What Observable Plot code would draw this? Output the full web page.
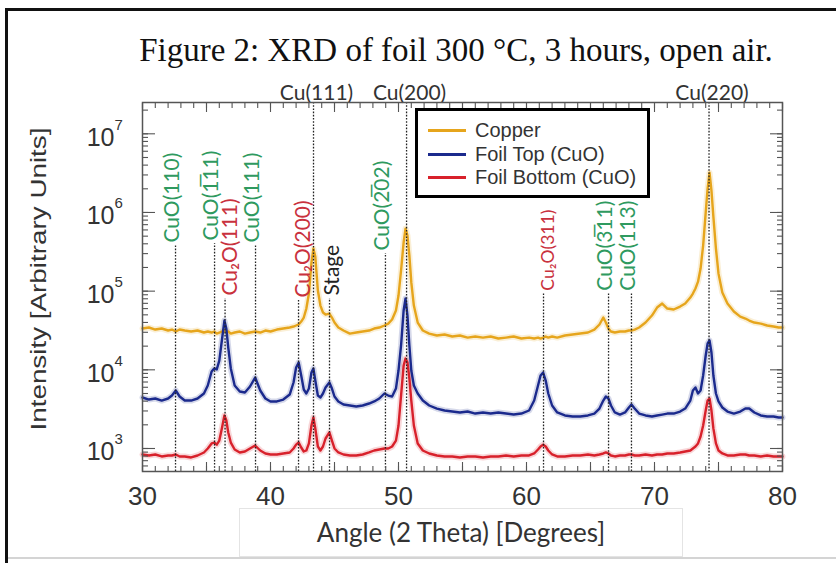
<!DOCTYPE html>
<html>
<head>
<meta charset="utf-8">
<script src="https://cdn.jsdelivr.net/npm/d3@7"></script>
<script src="https://cdn.jsdelivr.net/npm/@observablehq/plot@0.6"></script>
<style>
  html, body { margin: 0; padding: 0; background: #fff; }
  #wrap { position: relative; width: 836px; height: 563px; overflow: hidden; background: #fff; }
  #chart { position: absolute; left: 0; top: 0; }
  #borderTop { position: absolute; left: 5px; top: 8px; width: 831px; height: 3px; background: #111; }
  #borderLeft { position: absolute; left: 5px; top: 8px; width: 3px; height: 555px; background: #111; }
  #borderBottom { position: absolute; left: 8px; top: 557px; width: 828px; height: 2px; background: #d4d4d4; }
  #title { position: absolute; left: 56px; width: 800px; top: 34px; line-height: 33px; text-align: center;
           font-family: "Liberation Serif", "Times New Roman", serif; font-size: 33px; color: #111; white-space: nowrap; }
  #xtitle { position: absolute; left: 239px; top: 508px; width: 442px; height: 47px; border: 1px solid #e4e4e4;
            font-family: Lato, "Open Sans", sans-serif; font-size: 26px; color: #333; text-align: center; line-height: 47px; white-space: nowrap; }
  #legend { position: absolute; left: 415px; top: 108px; width: 229px; height: 84px; border: 3px solid #000; background: #fff;
            font-family: "Liberation Sans", Arial, sans-serif; font-size: 20px; color: #333; }
  .lrow { position: absolute; left: 0; height: 22px; line-height: 22px; white-space: nowrap; }
  .lsw { position: absolute; left: 10px; top: 10px; width: 38px; height: 3px; }
  .ltx { position: absolute; left: 57px; top: 0; }
</style>
</head>
<body>
<div id="wrap">
  <div id="chart"></div>
  <div id="title"></div>
  <div id="xtitle"></div>
  <div id="legend"></div>
  <div id="borderTop"></div>
  <div id="borderLeft"></div>
  <div id="borderBottom"></div>
</div>
<script>
// ---------- data ----------
const titleText = "Figure 2: XRD of foil 300 °C, 3 hours, open air.";
const xTitle = "Angle (2 Theta) [Degrees]";
const yTitle = "Intensity [Arbitrary Units]";

const seriesNames = ["Copper", "Foil Top (CuO)", "Foil Bottom (CuO)"];
const seriesColors = ["#e6a51c", "#1b2a8d", "#d8212b"];

const angles = [30,30.5,31,31.5,32,32.3,32.6,32.9,33.3,33.8,
  34.3,34.8,35.1,35.4,35.6,35.8,36,36.2,36.4,36.55,
  36.7,36.9,37.2,37.6,38,38.4,38.8,39.2,39.6,40,
  40.5,41,41.5,41.8,42,42.2,42.4,42.6,42.8,43,
  43.2,43.35,43.5,43.7,43.9,44.1,44.3,44.6,44.8,45,
  45.3,45.7,46.2,46.7,47.2,47.7,48.1,48.5,48.9,49.2,
  49.5,49.8,50,50.2,50.4,50.55,50.7,50.85,51,51.2,
  51.5,51.9,52.4,53,53.6,54.2,54.8,55.4,56,56.6,
  57.2,57.8,58.4,59,59.6,60.2,60.6,60.9,61.1,61.3,
  61.5,61.7,62,62.4,63,63.6,64.2,64.8,65.3,65.7,
  66,66.2,66.4,66.6,66.9,67.3,67.7,68,68.2,68.45,
  68.8,69.3,69.8,70.2,70.6,71,71.5,72,72.4,72.8,
  73,73.2,73.4,73.6,73.8,74,74.15,74.3,74.45,74.6,
  74.8,75,75.3,75.7,76.2,76.7,77.1,77.4,77.8,78.3,
  78.8,79.3,79.7,80];

const copper = [33500,34500,32500,33500,31600,32500,30700,32500,31600,30700,
  31600,29800,30700,29800,30700,28900,29800,30700,31600,29800,
  30700,28900,29800,30700,28900,29800,30700,29800,31600,30700,
  32500,33500,34500,35500,36600,37700,41100,46200,60100,93200,
  231000,348000,275000,102000,65600,53500,50400,51900,46200,39900,
  34500,31600,28900,29800,30700,31600,33500,34500,36600,38700,
  43600,56700,87900,183000,415000,624000,508000,283000,129000,65600,
  39900,31600,28900,27300,28100,26500,27300,25700,26500,25700,
  26500,25000,25700,26500,25000,25700,25000,25700,25000,25700,
  26500,25700,26500,25700,27300,28100,28900,29800,32500,37700,
  46200,39900,33500,30700,29800,30700,30700,31600,31600,32500,
  34500,39900,49000,61900,69600,60100,58400,63700,69600,82900,
  93200,108000,132000,194000,380000,997000,2010000,3210000,1900000,887000,
  348000,167000,96000,69600,55100,47500,44900,42300,39900,38700,
  36600,35500,34500,34500];

const foilTop = [4450,4190,4320,4070,4320,4710,5460,4580,4070,4070,
  4320,5000,6320,9510,10400,10100,13100,23600,42300,33500,
  19200,10400,6320,5300,5150,6140,7980,5460,4320,3960,
  3960,4190,4850,6900,10700,12400,8470,5620,5000,5780,
  9240,10400,7310,4710,4450,5000,5960,6900,5780,4580,
  3960,3620,3520,3420,3520,3730,3960,4320,5000,4710,
  4580,5780,9800,20400,56700,80500,49000,20400,9800,6320,
  5000,4070,3520,3220,3040,2950,2870,2950,2780,2870,
  2780,2870,2780,2700,2780,3040,4070,6320,8470,9240,
  7310,5000,3520,2870,2630,2550,2550,2630,2780,3220,
  4070,4580,4320,3520,2870,2700,2870,3320,3620,3220,
  2780,2630,2550,2630,2700,2780,2780,2950,3220,4070,
  5460,5960,5000,5460,8470,15200,21600,23600,16600,8470,
  5000,3960,3320,2950,2780,2950,3220,3220,2870,2630,
  2550,2550,2480,2480];

const foilBottom = [839,815,839,792,815,815,839,792,792,769,
  815,890,1000,1160,1190,1120,1260,1800,2630,2270,
  1600,1190,971,890,916,1000,1090,943,864,839,
  839,864,890,1000,1120,1190,1030,916,943,1160,
  1960,2480,1800,1060,943,1060,1340,1600,1260,1000,
  890,839,815,815,839,890,943,971,1000,1000,
  1060,1260,1960,4710,11300,13900,12400,7750,4070,1960,
  1160,943,864,815,792,792,769,792,792,769,
  792,792,815,792,815,815,864,971,1060,1120,
  1060,943,839,792,792,815,815,839,815,839,
  864,890,864,815,792,815,815,839,839,815,
  815,839,815,839,839,864,864,890,916,943,
  1000,1060,1160,1420,1960,3040,4070,4320,3040,1800,
  1160,943,864,815,815,839,839,815,815,792,
  815,792,792,792];

// reflections labelled inside the plot
const peakNames  = ["CuO(110)", "CuO(1\u030511)", "Cu\u2082O(111)", "CuO(111)", "Cu\u2082O(200)", "Stage",
                    "CuO(2\u030502)", "Cu\u2082O(311)", "CuO(3\u030511)", "CuO(113)"];
const peakAngles = [32.58, 35.63, 36.45, 38.83, 42.19, 44.61, 48.98, 61.33, 66.41, 68.2];
const peakKinds  = ["CuO", "CuO", "Cu2O", "CuO", "Cu2O", "Stage", "CuO", "Cu2O", "CuO", "CuO"];
const peakTops   = [380000, 403000, 80500, 380000, 76000, 80500, 300000, 93000, 93000, 93000];

// copper reflections labelled above the frame
const cuNames  = ["Cu(111)", "Cu(200)", "Cu(220)"];
const cuAngles = [43.36, 50.63, 74.26];

const xTickLabels = [30, 40, 50, 60, 70, 80];
const yDecades = [1e3, 1e4, 1e5, 1e6, 1e7];
const yDomain = [510, 2.5e7];

const kindNames  = ["CuO", "Cu2O", "Stage"];
const kindColors = ["#2f9a5f", "#c9313d", "#222222"];
const kindShift  = {CuO: -3, Cu2O: 5, Stage: 3};
const labelSize  = name => (name === "Cu\u2082O(311)" ? 17.5 : 21);   // this label is set smaller in the figure

// ---------- build ----------
const rows = [];
[copper, foilTop, foilBottom].forEach((arr, k) =>
  arr.forEach((v, i) => rows.push({angle: angles[i], intensity: v, series: seriesNames[k]})));
const peaks = peakNames.map((n, i) => ({name: n, angle: peakAngles[i], kind: peakKinds[i], top: peakTops[i]}));
const cuPeaks = cuNames.map((n, i) => ({name: n, angle: cuAngles[i]}));

const tickStyle = {stroke: "#555", strokeWidth: 1.1, tickFormat: () => "", label: null};
const sans = "'Liberation Sans', Arial, sans-serif";
const lab = "Lato, 'Noto Sans', 'DejaVu Sans', sans-serif";

const labelMarks = kindNames.map(k =>
  Plot.text(peaks, {filter: d => d.kind === k, x: "angle", y: "top", text: "name", fill: "kind", rotate: -90,
                    textAnchor: "start", dy: -3, dx: kindShift[k], fontSize: d => labelSize(d.name), fontFamily: lab}));

const chart = Plot.plot({
  width: 836, height: 563,
  marginTop: 102, marginBottom: 92, marginLeft: 142, marginRight: 54,
  x: {domain: [30, 80]},
  y: {type: "log", domain: yDomain},
  color: {domain: [...seriesNames, ...kindNames], range: [...seriesColors, ...kindColors]},
  style: {background: "transparent", fontFamily: sans, color: "#333"},
  marks: [
    Plot.line(rows, {x: "angle", y: "intensity", z: "series", stroke: "series", strokeWidth: 6, strokeOpacity: 0.18}),
    Plot.line(rows, {x: "angle", y: "intensity", z: "series", stroke: "series", strokeWidth: 2.4}),
    Plot.ruleX(peaks, {x: "angle", y1: yDomain[0], y2: "top", stroke: "#222", strokeWidth: 1.3, strokeDasharray: "1.6,1.6"}),
    Plot.ruleX(cuPeaks, {x: "angle", stroke: "#222", strokeWidth: 1.3, strokeDasharray: "1.6,1.6"}),
    ...labelMarks,
    Plot.text(cuPeaks, {x: "angle", text: "name", frameAnchor: "top", lineAnchor: "bottom", dy: -3, dx: 3,
                        fontSize: 21, fontFamily: lab, fill: "#333"}),
    Plot.frame({stroke: "#555", strokeWidth: 1.5}),
    Plot.axisX({anchor: "bottom", ticks: 50, tickSize: -5, ...tickStyle}),
    Plot.axisX({anchor: "bottom", ticks: 10, tickSize: -9, ...tickStyle}),
    Plot.axisX({anchor: "top", ticks: 50, tickSize: -5, ...tickStyle}),
    Plot.axisX({anchor: "top", ticks: 10, tickSize: -9, ...tickStyle}),
    Plot.axisY({anchor: "left", ticks: 60, tickSize: -6, ...tickStyle}),
    Plot.axisY({anchor: "left", ticks: yDecades, tickSize: -13, ...tickStyle}),
    Plot.axisY({anchor: "right", ticks: 60, tickSize: -6, ...tickStyle}),
    Plot.axisY({anchor: "right", ticks: yDecades, tickSize: -13, ...tickStyle}),
    Plot.text(xTickLabels, {x: d => d, frameAnchor: "bottom", text: d => String(d), dy: 33,
                            fontSize: 26, fontFamily: sans, fill: "#333"}),
    Plot.text(yDecades, {y: d => d, frameAnchor: "left", text: () => "10", textAnchor: "end", dx: -28, dy: 4,
                         fontSize: 25, fontFamily: sans, fill: "#333"}),
    Plot.text(yDecades, {y: d => d, frameAnchor: "left", text: d => String(Math.round(Math.log10(d))), textAnchor: "start",
                         dx: -28, dy: -9, fontSize: 15, fontFamily: sans, fill: "#333"}),
    Plot.text([yTitle], {frameAnchor: "bottom-left", text: d => d, rotate: -90, textAnchor: "start", dx: -97, dy: -41,
                         fontSize: 22, fontFamily: sans, fill: "#333"})
  ]
});
document.getElementById("chart").appendChild(chart);

// stretch the y title to the length seen in the reference
chart.querySelectorAll("text").forEach(t => {
  if (t.textContent === yTitle) { t.setAttribute("textLength", 303); t.setAttribute("lengthAdjust", "spacingAndGlyphs"); }
});

document.getElementById("title").textContent = titleText;
document.getElementById("xtitle").textContent = xTitle;

const legend = document.getElementById("legend");
seriesNames.forEach((n, i) => {
  const row = document.createElement("div");
  row.className = "lrow";
  row.style.top = (8 + i * 23.5) + "px";
  row.innerHTML = `<div class="lsw" style="background:${seriesColors[i]}"></div><div class="ltx"></div>`;
  row.querySelector(".ltx").textContent = n;
  legend.appendChild(row);
});
</script>
</body>
</html>
